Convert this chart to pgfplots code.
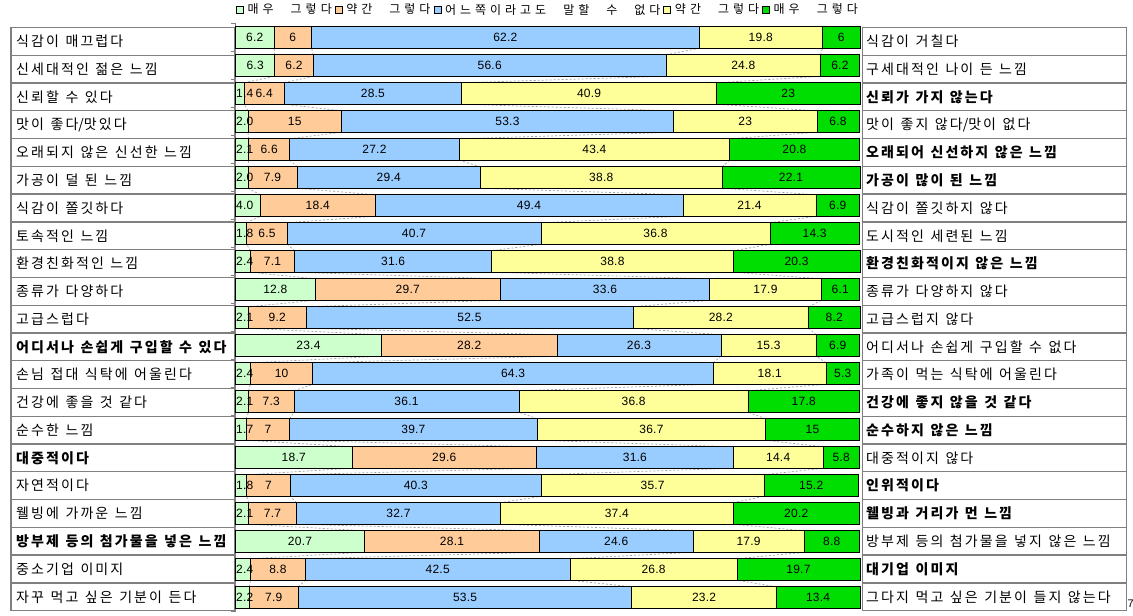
\documentclass[border=0pt]{standalone}
\usepackage{pgfplots}
\pgfplotsset{compat=1.18}
\usepackage{pgfplotstable}
\usepackage{fontspec}
\newfontfamily\kr{Noto Sans CJK KR}
\newfontfamily\num[LetterSpace=2]{Liberation Sans}
\definecolor{cA}{HTML}{CCFFCC}
\definecolor{cB}{HTML}{FFCC99}
\definecolor{cC}{HTML}{99CCFF}
\definecolor{cD}{HTML}{FFFF99}
\definecolor{cE}{HTML}{00DD00}
\definecolor{tgrid}{HTML}{808080}
\definecolor{sline}{HTML}{A0A0A0}

% extra spacing between Hangul syllables (letter-spaced look)
\newdimen\krsp \krsp=2.1pt
\XeTeXinterchartokenstate=1
\newXeTeXintercharclass\hangulclass
\count255="AC00
\loop \XeTeXcharclass\count255=\hangulclass \ifnum\count255<"D7A3 \advance\count255 by 1 \repeat
\XeTeXinterchartoks\hangulclass\hangulclass={\hskip\krsp\relax}

\newcommand\labfont{\krsp=2.1pt\relax\kr\fontsize{14}{16}\selectfont\spaceskip=6.5pt\relax}
\newcommand\legfont{\krsp=4pt\relax\kr\fontsize{12}{14}\selectfont}
\newcommand\numfont{\num\fontsize{12}{14}\selectfont}

\pgfplotstableread{
row a b c d e
1 6.2 6 62.2 19.8 6
2 6.3 6.2 56.6 24.8 6.2
3 1.4 6.4 28.5 40.9 23
4 2.0 15 53.3 23 6.8
5 2.1 6.6 27.2 43.4 20.8
6 2.0 7.9 29.4 38.8 22.1
7 4.0 18.4 49.4 21.4 6.9
8 1.8 6.5 40.7 36.8 14.3
9 2.4 7.1 31.6 38.8 20.3
10 12.8 29.7 33.6 17.9 6.1
11 2.1 9.2 52.5 28.2 8.2
12 23.4 28.2 26.3 15.3 6.9
13 2.4 10 64.3 18.1 5.3
14 2.1 7.3 36.1 36.8 17.8
15 1.7 7 39.7 36.7 15
16 18.7 29.6 31.6 14.4 5.8
17 1.8 7 40.3 35.7 15.2
18 2.1 7.7 32.7 37.4 20.2
19 20.7 28.1 24.6 17.9 8.8
20 2.4 8.8 42.5 26.8 19.7
21 2.2 7.9 53.5 23.2 13.4
}\data
% cumulative segment ends and the shift to the previous bar (for the series lines)
\pgfplotstablecreatecol[create col/expr={\thisrow{a}}]{s1}{\data}
\pgfplotstablecreatecol[create col/expr={\thisrow{s1}+\thisrow{b}}]{s2}{\data}
\pgfplotstablecreatecol[create col/expr={\thisrow{s2}+\thisrow{c}}]{s3}{\data}
\pgfplotstablecreatecol[create col/expr={\thisrow{s3}+\thisrow{d}}]{s4}{\data}
\pgfplotstablecreatecol[create col/expr={\prevrow{s1}-\thisrow{s1}}]{u1}{\data}
\pgfplotstablecreatecol[create col/expr={\prevrow{s2}-\thisrow{s2}}]{u2}{\data}
\pgfplotstablecreatecol[create col/expr={\prevrow{s3}-\thisrow{s3}}]{u3}{\data}
\pgfplotstablecreatecol[create col/expr={\prevrow{s4}-\thisrow{s4}}]{u4}{\data}

\newcommand\leftlab[2]{\node[anchor=west,inner sep=0pt] at (16pt,{-(27.5+(#1-0.5)*27.77)*1pt}) {\labfont #2};}
\newcommand\rightlab[2]{\node[anchor=west,inner sep=0pt] at (866pt,{-(27.5+(#1-0.5)*27.77)*1pt}) {\labfont #2};}
\newcommand\lsp{\hspace{17pt}}

\pgfplotsset{frame/.style={
  at={(235.5pt,-23.5pt)}, anchor=north west,
  scale only axis, width=624pt, height=588pt,
  xmin=0, xmax=100.15, ymin=0.5, ymax=21.5, y dir=reverse, clip=false}}
\pgfplotsset{sl/.style={draw=sline, line width=0.7pt, dash pattern=on 2pt off 2pt,
  skip coords between index={0}{1}}}

\begin{document}
\begin{tikzpicture}
\useasboundingbox (0pt,0pt) rectangle (1133pt,-616pt);
% label tables
\draw[tgrid,line width=1.3pt] (11pt,-27.5pt) rectangle (235pt,-610.7pt);
\draw[tgrid,line width=1.3pt] (862.7pt,-27.5pt) rectangle (1126.7pt,-610.7pt);
\foreach \k in {1,...,20}{
  \draw[tgrid,line width=1.3pt] (11pt,{-(27.5+\k*27.77)*1pt}) -- (235pt,{-(27.5+\k*27.77)*1pt});
  \draw[tgrid,line width=1.3pt] (862.7pt,{-(27.5+\k*27.77)*1pt}) -- (1126.7pt,{-(27.5+\k*27.77)*1pt});
}
\leftlab{1}{식감이 매끄럽다}
\leftlab{2}{신세대적인 젊은 느낌}
\leftlab{3}{신뢰할 수 있다}
\leftlab{4}{맛이 좋다/맛있다}
\leftlab{5}{오래되지 않은 신선한 느낌}
\leftlab{6}{가공이 덜 된 느낌}
\leftlab{7}{식감이 쫄깃하다}
\leftlab{8}{토속적인 느낌}
\leftlab{9}{환경친화적인 느낌}
\leftlab{10}{종류가 다양하다}
\leftlab{11}{고급스럽다}
\leftlab{12}{\bfseries 어디서나 손쉽게 구입할 수 있다}
\leftlab{13}{손님 접대 식탁에 어울린다}
\leftlab{14}{건강에 좋을 것 같다}
\leftlab{15}{순수한 느낌}
\leftlab{16}{\bfseries 대중적이다}
\leftlab{17}{자연적이다}
\leftlab{18}{웰빙에 가까운 느낌}
\leftlab{19}{\bfseries 방부제 등의 첨가물을 넣은 느낌}
\leftlab{20}{중소기업 이미지}
\leftlab{21}{자꾸 먹고 싶은 기분이 든다}
\rightlab{1}{식감이 거칠다}
\rightlab{2}{구세대적인 나이 든 느낌}
\rightlab{3}{\bfseries 신뢰가 가지 않는다}
\rightlab{4}{맛이 좋지 않다/맛이 없다}
\rightlab{5}{\bfseries 오래되어 신선하지 않은 느낌}
\rightlab{6}{\bfseries 가공이 많이 된 느낌}
\rightlab{7}{식감이 쫄깃하지 않다}
\rightlab{8}{도시적인 세련된 느낌}
\rightlab{9}{\bfseries 환경친화적이지 않은 느낌}
\rightlab{10}{종류가 다양하지 않다}
\rightlab{11}{고급스럽지 않다}
\rightlab{12}{어디서나 손쉽게 구입할 수 없다}
\rightlab{13}{가족이 먹는 식탁에 어울린다}
\rightlab{14}{\bfseries 건강에 좋지 않을 것 같다}
\rightlab{15}{\bfseries 순수하지 않은 느낌}
\rightlab{16}{대중적이지 않다}
\rightlab{17}{\bfseries 인위적이다}
\rightlab{18}{\bfseries 웰빙과 거리가 먼 느낌}
\rightlab{19}{방부제 등의 첨가물을 넣지 않은 느낌}
\rightlab{20}{\bfseries 대기업 이미지}
\rightlab{21}{그다지 먹고 싶은 기분이 들지 않는다}
\node[anchor=west,inner sep=0pt,font=\num\fontsize{11}{13}\selectfont] at (1127.5pt,-604pt) {7};

% series lines joining the segment ends of neighbouring bars
\begin{axis}[frame, hide axis]
\addplot[sl, quiver={u=\thisrow{u1}, v=-0.232}] table[x=s1, y expr=\thisrow{row}-0.384] {\data};
\addplot[sl, quiver={u=\thisrow{u2}, v=-0.232}] table[x=s2, y expr=\thisrow{row}-0.384] {\data};
\addplot[sl, quiver={u=\thisrow{u3}, v=-0.232}] table[x=s3, y expr=\thisrow{row}-0.384] {\data};
\addplot[sl, quiver={u=\thisrow{u4}, v=-0.232}] table[x=s4, y expr=\thisrow{row}-0.384] {\data};
\end{axis}

\begin{axis}[
  frame,
  xbar stacked, bar width=21.5pt,
  hide x axis,
  axis y line*=left,
  y axis line style={draw=tgrid, line width=1pt, -},
  ytick={0.5,1.5,...,21.5}, yticklabels={},
  tick align=outside, major tick length=5pt,
  ytick style={draw=tgrid, line width=1pt},
  point meta=explicit symbolic,
  nodes near coords,
  nodes near coords style={font=\numfont, text=black, inner sep=0pt},
  legend columns=5,
  legend style={at={(0.5,1)}, anchor=south, yshift=7pt, draw=none, fill=none,
    inner sep=0pt, outer sep=0pt, nodes={inner sep=1pt},
    font=\legfont,
    /tikz/every even column/.append style={column sep=2pt},
    /tikz/every odd column/.append style={column sep=3pt}},
  legend image code/.code={\draw[#1,draw=black,line width=0.5pt] (0pt,-3.5pt) rectangle (7pt,3.5pt);},
]
\addplot[fill=cA, draw=black, line width=0.6pt,
  visualization depends on={\thisrow{a} \as \segw},
  every node near coord/.append style={anchor=center, xshift={(\segw<5) ? (9.2-3.115*\segw) : 0}}]
  table[x=a,y=row,meta=a] {\data};
\addplot[fill=cB, draw=black, line width=0.6pt,
  every node near coord/.append style={anchor=center}]
  table[x=b,y=row,meta=b] {\data};
\addplot[fill=cC, draw=black, line width=0.6pt,
  every node near coord/.append style={anchor=center}]
  table[x=c,y=row,meta=c] {\data};
\addplot[fill=cD, draw=black, line width=0.6pt,
  every node near coord/.append style={anchor=center}]
  table[x=d,y=row,meta=d] {\data};
\addplot[fill=cE, draw=black, line width=0.6pt,
  every node near coord/.append style={anchor=center}]
  table[x=e,y=row,meta=e] {\data};
\legend{매우\lsp 그렇다, 약간\lsp 그렇다, 어느쪽이라고도\lsp 말할\lsp 수\lsp 없다, 약간\lsp 그렇다, 매우\lsp 그렇다}
\end{axis}
\end{tikzpicture}
\end{document}
